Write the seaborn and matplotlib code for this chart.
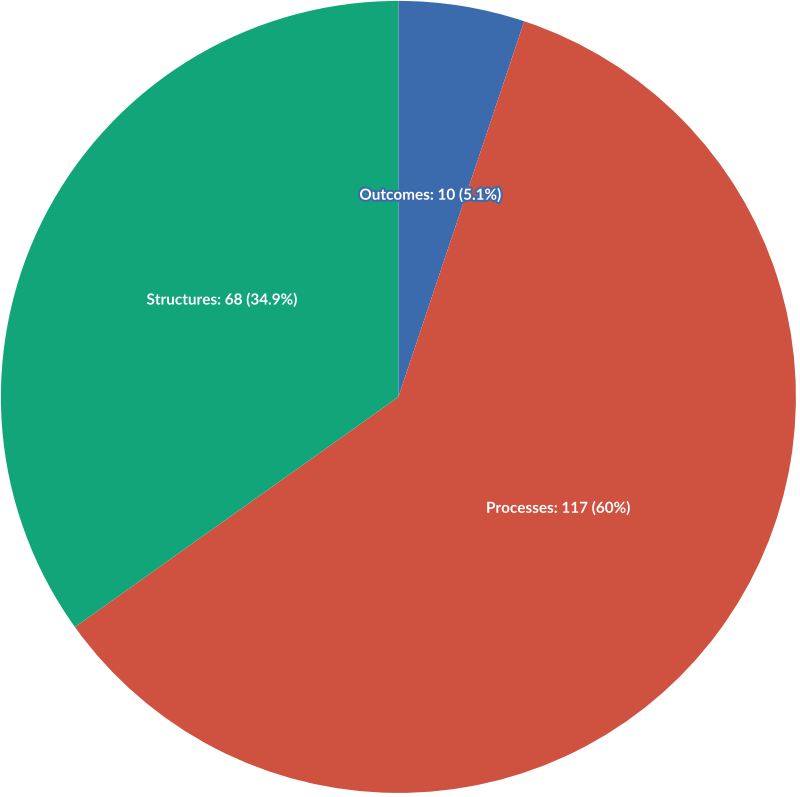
import matplotlib
matplotlib.use("Agg")
import matplotlib.pyplot as plt
import matplotlib.patheffects as pe
import seaborn as sns

sns.set_theme(style="white")
plt.rcParams['font.family'] = ['Lato', 'DejaVu Sans']

categories = ["Outcomes", "Processes", "Structures"]
values = [10, 117, 68]
colors = ["#3b6aad", "#cf513f", "#13a57a"]

total = sum(values)
labels = []
for c, v in zip(categories, values):
    pct = v / total * 100
    s = f"{pct:.1f}".rstrip("0").rstrip(".")
    labels.append(f"{c}: {v} ({s}%)")

fig = plt.figure(figsize=(8.0, 7.97), dpi=100)
ax = fig.add_axes([0, 0, 1, 1])
r = 396 / 398.5
wedges, texts = ax.pie(values, colors=colors, startangle=90, counterclock=False,
                       radius=r, center=(-0.004, 0.004),
                       labels=labels, labeldistance=0.5,
                       wedgeprops=dict(linewidth=0),
                       textprops=dict(color="white", fontsize=11, fontweight="bold",
                                      ha="center", va="center"))
for t, col in zip(texts, colors):
    x, y = t.get_position()
    t.set_position((x, y + 6 / 398.5))
    t.set_path_effects([pe.withStroke(linewidth=3, foreground=col)])
ax.set_xlim(-1, 1)
ax.set_ylim(-1, 1)
ax.set_aspect("auto")
ax.axis("off")
fig.savefig("out.png", dpi=100, facecolor="white")
